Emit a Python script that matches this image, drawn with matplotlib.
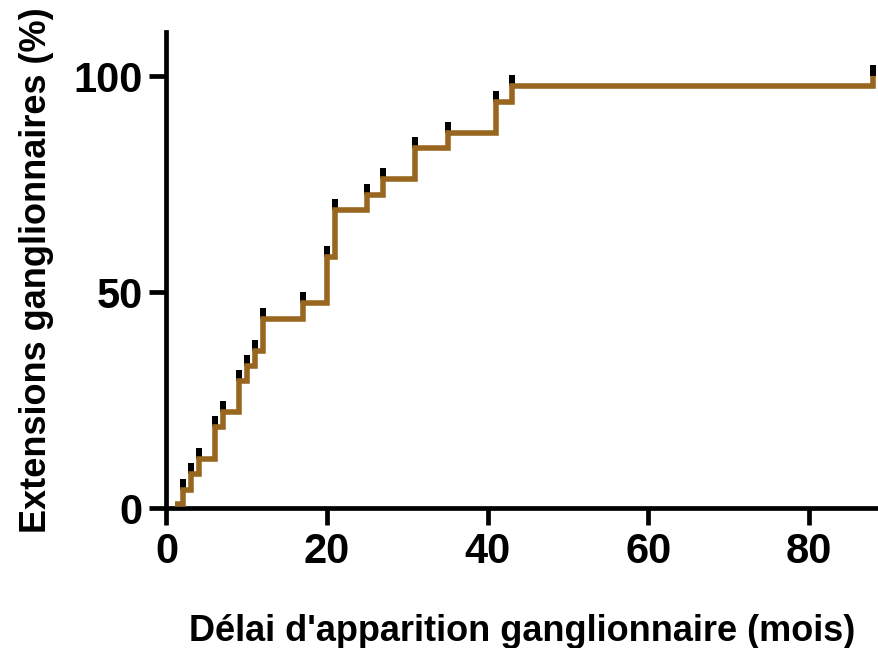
import matplotlib
matplotlib.use("Agg")
import matplotlib.pyplot as plt
from matplotlib.path import Path

# Data
start_time = [1]
start_level = [1]
event_times = [2, 3, 4, 6, 7, 9, 10, 11, 12, 17, 20, 21, 25, 27, 31, 35, 41, 43, 88]
event_levels = [4.3, 7.9, 11.4, 18.8, 22.2, 29.5, 33.0, 36.5, 43.8, 47.5,
                58.2, 69.0, 72.5, 76.1, 83.3, 86.9, 94.0, 97.6, 100]
x_ticks = [0, 20, 40, 60, 80]
y_ticks = [0, 50, 100]
x_label = "Délai d'apparition ganglionnaire (mois)"
y_label = "Extensions ganglionnaires (%)"

plt.rcParams['font.family'] = ['Liberation Sans', 'DejaVu Sans']

fig = plt.figure(figsize=(8.79, 6.48), dpi=100)
ax = fig.add_axes([166.5 / 879, (648 - 508.3) / 648, (878 - 166.5) / 879, (508.3 - 32) / 648])

brown = '#98661F'
xs = start_time + event_times
ys = start_level + event_levels
ax.plot(xs, ys, drawstyle='steps-post', color=brown, lw=4.0, zorder=3,
        solid_joinstyle='miter', solid_capstyle='butt')

mark = Path([(-0.3, 0), (0.3, 0), (0.3, 1), (-0.3, 1), (-0.3, 0)],
            [Path.MOVETO, Path.LINETO, Path.LINETO, Path.LINETO, Path.CLOSEPOLY])
ax.plot(event_times, event_levels, ls='none', marker=mark, markersize=16,
        color='black', markeredgewidth=0, zorder=2, clip_on=False)

ax.set_xlim(0, 88.6)
ax.set_ylim(0, 110.2)
ax.set_xticks(x_ticks)
ax.set_yticks(y_ticks)
for s in ['top', 'right']:
    ax.spines[s].set_visible(False)
for s in ['left', 'bottom']:
    ax.spines[s].set_linewidth(3.4)
ax.tick_params(axis='both', which='major', length=12, width=3.4, labelsize=30, pad=5)
for lab in ax.get_xticklabels() + ax.get_yticklabels():
    lab.set_fontweight('bold')

ax.set_xlabel(x_label, fontsize=26, fontweight='bold', labelpad=30)
ax.set_ylabel(y_label, fontsize=26, fontweight='bold', labelpad=14)

fig.savefig('out.png', dpi=100)
